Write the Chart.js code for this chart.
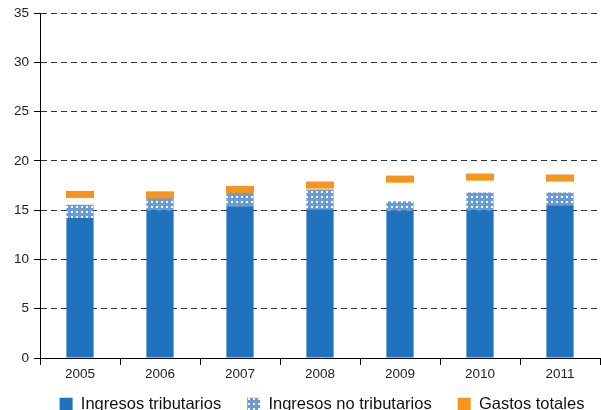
<!DOCTYPE html>
<html>
<head>
<meta charset="utf-8">
<script src="https://cdn.jsdelivr.net/npm/chart.js@4"></script>
<style>
  html, body { margin: 0; padding: 0; background: #fff; }
  #wrap { width: 601px; height: 410px; }
</style>
</head>
<body>
<div id="wrap"><canvas id="myChart"></canvas></div>
<script>
const years = ['2005', '2006', '2007', '2008', '2009', '2010', '2011'];
const tributarios = [14.2, 15.0, 15.4, 15.1, 14.95, 15.0, 15.5];
const noTributarios = [1.35, 1.4, 2.0, 2.0, 0.95, 1.8, 1.3];
const gastos = [16.6, 16.55, 17.1, 17.55, 18.15, 18.36, 18.26];
const yTicks = [0, 5, 10, 15, 20, 25, 30, 35];

document.addEventListener('DOMContentLoaded', () => {
  const ctx = document.getElementById('myChart');

  // dotted fill for "no tributarios"
  const tile = document.createElement('canvas');
  tile.width = 5; tile.height = 5;
  const t = tile.getContext('2d');
  t.fillStyle = '#6a9bd4';
  t.fillRect(0, 0, 5, 5);
  t.fillStyle = '#ffffff';
  t.fillRect(1, 1, 2, 2);
  const dots = t.createPattern(tile, 'repeat');

  const family = '"Liberation Sans", Arial, sans-serif';
  const font = { family: family, size: 13.5 };

  const data = {
    labels: years,
    datasets: [
      {
        label: 'Ingresos tributarios',
        data: tributarios,
        backgroundColor: '#1f72bb',
        stack: 'ing',
        order: 1
      },
      {
        label: 'Ingresos no tributarios',
        data: noTributarios,
        backgroundColor: dots,
        stack: 'ing',
        order: 1
      },
      {
        label: 'Gastos totales',
        data: gastos.map(v => [v - 0.36, v + 0.36]),
        backgroundColor: '#f7941d',
        order: 0,
        barPercentage: 0.35
      }
    ]
  };

  // squeeze the legend box and draw it lower / a bit to the right
  const legendShift = {
    id: 'legendShift',
    afterInit(chart) {
      const lg = chart.legend;
      const fit = lg.fit;
      lg.fit = function () { fit.call(this); this.height = 27; };
      lg.draw = function () {
        const c = this.ctx;
        c.save();
        c.translate(22, -13);
        this._draw();
        c.restore();
      };
    }
  };

  const config = {
    type: 'bar',
    data: data,
    plugins: [legendShift],
    options: {
      responsive: true,
      maintainAspectRatio: false,
      animation: false,
      grouped: false,
      barPercentage: 0.34,
      categoryPercentage: 1,
      layout: { padding: { top: 7, right: 1, left: 0, bottom: 0 } },
      plugins: {
        tooltip: { enabled: false },
        legend: {
          position: 'bottom',
          labels: {
            font: { family: family, size: 16.5 },
            color: '#111',
            boxWidth: 13,
            boxHeight: 13,
            padding: 26,
            sort: (a, b) => a.datasetIndex - b.datasetIndex
          }
        }
      },
      scales: {
        x: {
          offset: true,
          grid: { drawOnChartArea: false, drawTicks: true, tickLength: 7, offset: true, color: '#000' },
          border: { display: true, color: '#000', width: 1 },
          ticks: { font: font, color: '#222', padding: 1, maxRotation: 0 },
          afterFit: s => { s.height = 25; }
        },
        y: {
          min: 0, max: 35,
          afterBuildTicks: s => { s.ticks = yTicks.map(v => ({ value: v })); },
          grid: { color: '#333', lineWidth: 1, tickLength: 6, tickColor: '#000' },
          border: { display: true, color: '#000', width: 1, dash: [6, 4] },
          ticks: { font: font, color: '#222', padding: 5 },
          afterFit: s => { s.width = 40; }
        }
      }
    }
  };
  new Chart(ctx, config);
});
</script>
</body>
</html>
